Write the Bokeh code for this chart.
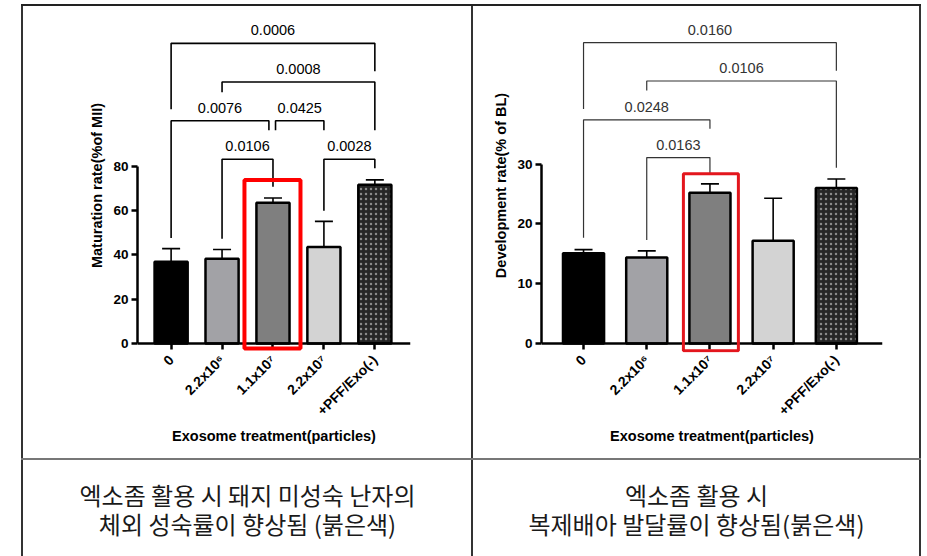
import math
from bokeh.plotting import figure
from bokeh.models import (Range1d, FixedTicker, Whisker, TeeHead, ColumnDataSource, Spacer,
                          BoxAnnotation, Span)
from bokeh.layouts import row, column
from bokeh.core.properties import value
from bokeh.embed import file_html
from bokeh.resources import INLINE

# ---------------- data ----------------
categories = ["0", "2.2x10\u2076", "1.1x10\u2077", "2.2x10\u2077", "+PFF/Exo(-)"]

mat_mean = [36.9, 38.2, 63.5, 43.5, 71.6]
mat_err_top = [42.8, 42.4, 65.6, 55.1, 73.8]
mat_yticks = [0, 20, 40, 60, 80]

dev_mean = [15.1, 14.4, 25.2, 17.2, 26.0]
dev_err_top = [15.7, 15.5, 26.7, 24.3, 27.5]
dev_yticks = [0, 10, 20, 30]

# significance brackets (bar i, bar j), bracket level, leg ends, p-value
mat_pairs = [(0, 4), (1, 4), (0, 2), (2, 3), (1, 2), (3, 4)]
mat_levels = [135.3, 117.9, 100.4, 100.4, 83.1, 83.1]
mat_left_ends = [105.6, 113.3, 47.6, 96.2, 47.2, 59.9]
mat_right_ends = [122.7, 96.2, 96.2, 96.2, 70.7, 79.0]
mat_pvals = ["0.0006", "0.0008", "0.0076", "0.0425", "0.0106", "0.0028"]
mat_left_shift = [0, 0, 0, 0.05, 0, 0]
mat_right_shift = [0, 0, -0.08, 0, 0, 0]

dev_pairs = [(0, 4), (1, 4), (0, 2), (1, 2)]
dev_levels = [50.3, 43.9, 37.4, 31.1]
dev_left_ends = [39.2, 42.3, 17.7, 17.3]
dev_right_ends = [45.6, 29.4, 35.9, 28.4]
dev_pvals = ["0.0160", "0.0106", "0.0248", "0.0163"]
dev_left_shift = [0, 0, 0, 0]
dev_right_shift = [0, 0, 0, 0]

# highlighted group box (x from, x to, y from, y to)
mat_box = (1.44, 2.54, -2.2, 73.7)
dev_box = (1.58, 2.45, -1.2, 28.4)

caption_left = ["엑소좀 활용 시 돼지 미성숙 난자의", "체외 성숙률이 향상됨 (붉은색)"]
caption_right = ["엑소좀 활용 시", "복제배아 발달률이 향상됨(붉은색)"]

# ---------------- styles ----------------
bar_colors = ["#000000", "#a2a2a6", "#7f7f7f", "#d3d3d3", "#262626"]
FONT = value("Liberation Sans")


def make_chart(width, height, mb_left, mb_right, mb_bottom, xr, yr, yticks, means, err_tops,
               ylabel, pairs, levels, lends, rends, lshift, rshift, pvals, box,
               br_color, br_width, box_color, box_width, tick_in):
    p = figure(width=width, height=height, output_backend="svg", toolbar_location=None,
               x_range=Range1d(*xr), y_range=Range1d(*yr),
               min_border_left=mb_left, min_border_right=mb_right,
               min_border_top=12, min_border_bottom=mb_bottom,
               outline_line_color=None, background_fill_color="white",
               border_fill_color="white")
    p.grid.visible = False

    xs = list(range(len(categories)))
    src = ColumnDataSource(dict(x=xs[:4], top=means[:4], color=bar_colors[:4]))
    p.vbar(x="x", top="top", width=0.65, source=src, fill_color="color",
           line_color="black", line_width=2.5)
    p.vbar(x=[xs[4]], top=[means[4]], width=0.65, fill_color=bar_colors[4],
           line_color="black", line_width=2.5, hatch_pattern="dot",
           hatch_color="#8a8a8a", hatch_scale=5, hatch_weight=4)

    esrc = ColumnDataSource(dict(x=xs, lower=means, upper=err_tops))
    p.add_layout(Whisker(base="x", lower="lower", upper="upper", source=esrc,
                         line_width=1.6, line_color="black",
                         upper_head=TeeHead(size=18, line_width=1.6, line_color="black"),
                         lower_head=None))

    bxs, bys, tx, ty = [], [], [], []
    for (i, j), lv, le, re_, ls, rs in zip(pairs, levels, lends, rends, lshift, rshift):
        xa, xb = i + ls, j + rs
        bxs.append([xa, xa, xb, xb])
        bys.append([le, lv, lv, re_])
        tx.append((xa + xb) / 2)
        ty.append(lv)
    p.multi_line(xs=bxs, ys=bys, line_color=br_color, line_width=br_width)
    p.text(x=tx, y=ty, text=pvals, text_font=FONT, text_font_size="14.5px",
           text_color=br_color, text_align="center", text_baseline="middle", y_offset=-13)

    # x axis line at value 0 (frame extends slightly below 0)
    p.add_layout(Span(location=0, dimension="width", line_color="black", line_width=2.5))
    p.add_layout(BoxAnnotation(left=box[0], right=box[1], bottom=box[2], top=box[3],
                               fill_alpha=0, fill_color=None, line_alpha=1,
                               line_color=box_color, line_width=box_width))

    ya = p.yaxis[0]
    ya.ticker = FixedTicker(ticks=yticks)
    ya.bounds = (yticks[0], yticks[-1])
    ya.axis_label = ylabel
    xa_ = p.xaxis[0]
    xa_.ticker = FixedTicker(ticks=xs)
    xa_.major_label_overrides = {i: c for i, c in enumerate(categories)}
    xa_.major_label_orientation = math.pi / 4
    xa_.axis_label = "Exosome treatment(particles)"
    for ax in (ya, xa_):
        ax.axis_line_width = 2.5
        ax.axis_line_color = "black"
        ax.major_tick_line_width = 2.5
        ax.major_tick_out = 6
        ax.major_tick_in = 0
        ax.minor_tick_line_color = None
        ax.major_label_text_font = "Liberation Sans"
        ax.major_label_text_font_style = "bold"
        ax.major_label_text_color = "black"
        ax.axis_label_text_font = "Liberation Sans"
        ax.axis_label_text_font_style = "bold"
        ax.axis_label_text_font_size = "14.5px"
        ax.axis_label_text_color = "black"
    xa_.axis_line_color = None
    xa_.major_tick_in = tick_in
    xa_.major_tick_out = 6 - tick_in
    ya.major_label_text_font_size = "13.5px"
    ya.major_label_standoff = 3
    xa_.major_label_text_font_size = "14px"
    xa_.major_label_standoff = 5
    xa_.axis_label_standoff = 1
    return p


left = make_chart(448, 452, 114, 61, 105, (-0.66, 4.7), (-4, 146.5), mat_yticks, mat_mean,
                  mat_err_top, "Maturation rate(%of MII)", mat_pairs, mat_levels,
                  mat_left_ends, mat_right_ends, mat_left_shift, mat_right_shift, mat_pvals,
                  mat_box, "black", 1.6, "#ff0000", 4, 9)
right = make_chart(446, 452, 68, 37, 106, (-0.665, 4.73), (-1.5, 54.35), dev_yticks, dev_mean,
                   dev_err_top, "Development rate(% of BL)", dev_pairs, dev_levels,
                   dev_left_ends, dev_right_ends, dev_left_shift, dev_right_shift, dev_pvals,
                   dev_box, "#333333", 1.2, "#e3161d", 3, 9)


def caption(width, lines):
    c = figure(width=width, height=96, output_backend="svg", toolbar_location=None,
               x_range=Range1d(0, width), y_range=Range1d(0, 96),
               x_axis_location=None, y_axis_location=None, min_border=0,
               outline_line_color=None)
    c.grid.visible = False
    c.text(x=[width / 2, width / 2], y=[62, 33], text=lines,
           text_font=value("Noto Sans CJK KR"), text_font_size="24px",
           text_color="#1a1a1a", text_align="center", text_baseline="middle")
    return c


def sep(w, h, color):
    return Spacer(width=w, height=h, styles={"background-color": color})


bl = caption(448, caption_left)
br = caption(446, caption_right)

layout = column(
    Spacer(width=10, height=4),
    row(Spacer(width=21, height=2), sep(900, 2, "#222222")),
    row(Spacer(width=21, height=452), sep(2, 452, "#333333"), left,
        sep(2, 452, "#333333"), right, sep(2, 452, "#333333")),
    row(Spacer(width=21, height=2), sep(900, 2, "#777777")),
    row(Spacer(width=21, height=96), sep(2, 96, "#333333"), bl,
        sep(2, 96, "#333333"), br, sep(2, 96, "#333333")),
)

open("out.html", "w").write(file_html(layout, INLINE))
